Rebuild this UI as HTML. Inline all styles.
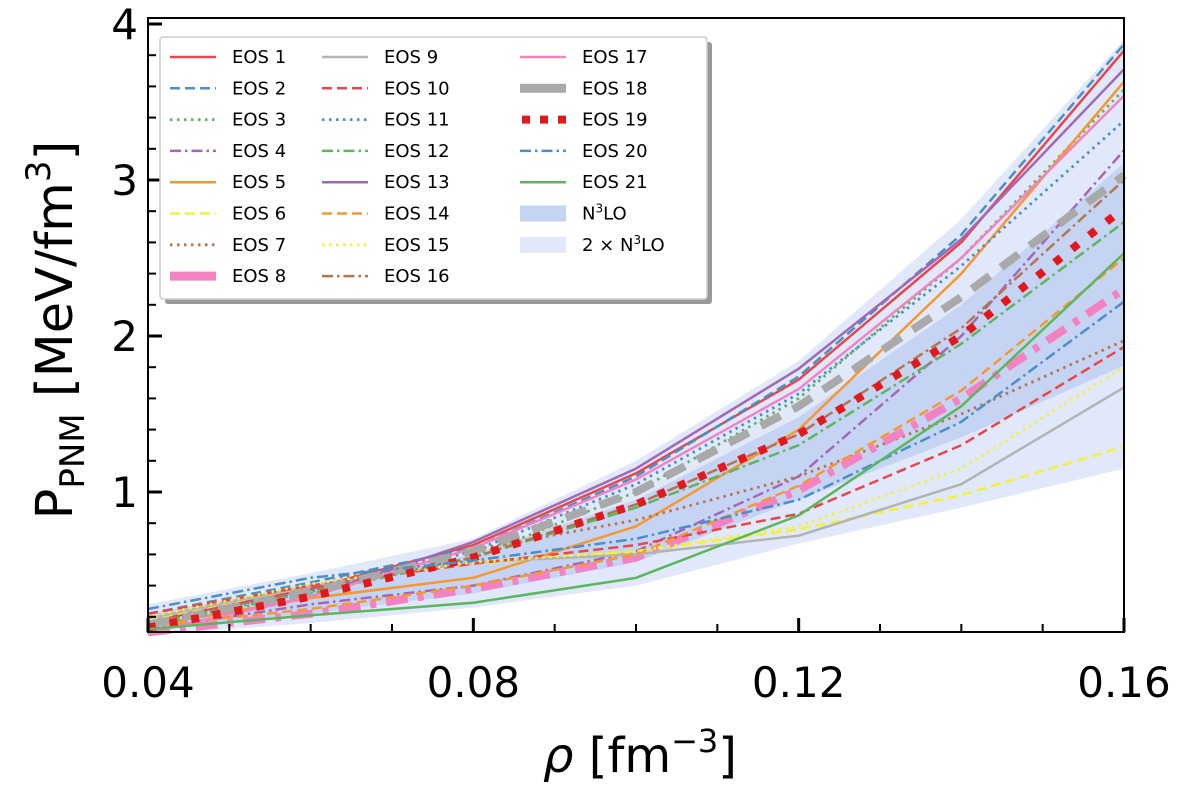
<!DOCTYPE html>
<html><head><meta charset="utf-8"><style>
body{margin:0;background:#fff;}
svg{display:block;font-family:"DejaVu Sans","Liberation Sans",sans-serif;}
</style></head><body>
<svg id="chart" width="1200" height="793" viewBox="0 0 1200 793"></svg>
<script>
const xs=[0.04,0.06,0.08,0.10,0.12,0.14,0.16];
const outerTop=[0.28,0.48,0.70,1.20,1.84,2.75,3.90];
const outerBot=[0.08,0.16,0.26,0.40,0.67,0.90,1.15];
const innerTop=[0.22,0.40,0.60,0.95,1.48,2.20,3.11];
const innerBot=[0.12,0.22,0.35,0.55,0.95,1.35,1.81];
const eos1=[0.17,0.38,0.66,1.12,1.72,2.60,3.83];
const eos2=[0.22,0.42,0.64,1.10,1.74,2.65,3.87];
const eos3=[0.15,0.36,0.58,1.00,1.60,2.50,3.58];
const eos4=[0.12,0.28,0.40,0.62,1.10,2.00,3.19];
const eos5=[0.14,0.32,0.45,0.78,1.40,2.40,3.63];
const eos6=[0.18,0.40,0.54,0.62,0.76,0.98,1.29];
const eos7=[0.20,0.40,0.63,0.82,1.10,1.50,1.97];
const eos8=[0.10,0.22,0.38,0.58,1.01,1.60,2.30];
const eos9=[0.19,0.40,0.55,0.60,0.72,1.05,1.67];
const eos10=[0.22,0.40,0.54,0.66,0.86,1.30,1.93];
const eos11=[0.16,0.37,0.62,1.05,1.63,2.45,3.38];
const eos12=[0.14,0.35,0.58,0.90,1.30,1.95,2.73];
const eos13=[0.10,0.33,0.68,1.15,1.79,2.62,3.71];
const eos14=[0.14,0.25,0.40,0.60,1.04,1.65,2.50];
const eos15=[0.20,0.41,0.55,0.62,0.78,1.15,1.80];
const eos16=[0.16,0.37,0.58,0.92,1.37,2.05,3.00];
const eos17=[0.10,0.33,0.64,1.08,1.66,2.50,3.54];
const eos18=[0.15,0.36,0.62,1.00,1.55,2.25,3.03];
const eos19=[0.13,0.33,0.58,0.92,1.37,2.00,2.82];
const eos20=[0.25,0.45,0.56,0.70,0.95,1.45,2.22];
const eos21=[0.12,0.21,0.29,0.45,0.85,1.55,2.53];
const xTickLabels=["0.04","0.08","0.12","0.16"];
const yTickLabels=["1","2","3","4"];

const NS="http://www.w3.org/2000/svg";
const svg=document.getElementById('chart');
const X0=148,X1=1124,Y0=632,Y1=18;
const xScale=v=>X0+(v-0.04)/0.12*(X1-X0);
const yScale=v=>648-156*v;
function mk(tag,attrs,parent){const e=document.createElementNS(NS,tag);for(const k in attrs)e.setAttribute(k,attrs[k]);(parent||svg).appendChild(e);return e;}

const C={red:"#e8474a",blue:"#4a8fc7",green:"#5cb65c",purple:"#a368b5",orange:"#f7972f",yellow:"#f2f23a",brown:"#b57450",pink:"#f282c2",gray:"#b3b3b3"};
const D={solid:"",dash:"10,5",dot:"2.5,4.5",dashdot:"11,4,2.5,4"};
const series=[
["EOS 1",eos1,C.red,D.solid,2.5],["EOS 2",eos2,C.blue,D.dash,2.5],["EOS 3",eos3,C.green,D.dot,2.8],
["EOS 4",eos4,C.purple,D.dashdot,2.5],["EOS 5",eos5,C.orange,D.solid,2.5],["EOS 6",eos6,C.yellow,D.dash,2.5],
["EOS 7",eos7,C.brown,D.dot,2.8],["EOS 8",eos8,C.pink,"22,10,6,10",8],["EOS 9",eos9,C.gray,D.solid,2.5],
["EOS 10",eos10,C.red,D.dash,2.5],["EOS 11",eos11,C.blue,D.dot,2.8],["EOS 12",eos12,C.green,D.dashdot,2.5],
["EOS 13",eos13,C.purple,D.solid,2.5],["EOS 14",eos14,C.orange,D.dash,2.5],["EOS 15",eos15,C.yellow,D.dot,2.8],
["EOS 16",eos16,C.brown,D.dashdot,2.5],["EOS 17",eos17,C.pink,D.solid,2.5],["EOS 18",eos18,"#a9a9a9","22,14",8],
["EOS 19",eos19,"#e0191c","8,14",8],["EOS 20",eos20,C.blue,D.dashdot,2.5],["EOS 21",eos21,C.green,D.solid,2.5]];

const plot=mk('g',{});


function band(top,bot,fill,name){
  let d='';xs.forEach((x,i)=>d+=(i?'L':'M')+xScale(x)+','+yScale(top[i]));
  for(let i=xs.length-1;i>=0;i--)d+='L'+xScale(xs[i])+','+yScale(bot[i]);
  const p=mk('path',{d:d+'Z',fill:fill},plot);
  
  
}
band(outerTop,outerBot,"#e1e8f9","band-2x-n3lo");
band(innerTop,innerBot,"#c6d4f4","band-n3lo");
series.forEach(s=>{
  const pts=xs.map((x,i)=>xScale(x)+','+yScale(s[1][i])).join(' ');
  const l=mk('polyline',{points:pts,fill:'none',stroke:s[2],'stroke-width':s[4],'stroke-dasharray':s[3],'stroke-linejoin':'round'},plot);
  
  
});
const fr=mk('rect',{x:X0,y:Y1,width:X1-X0,height:Y0-Y1,fill:'none',stroke:'#000','stroke-width':2});


for(let i=0;i<=12;i++){const v=0.04+i*0.01;const x=xScale(v);const maj=i%4===0;
  mk('line',{x1:x,x2:x,y1:Y0,y2:Y0-(maj?14:8),stroke:'#000','stroke-width':maj?3:2});}
xTickLabels.forEach(t=>{const e=mk('text',{x:xScale(parseFloat(t)),y:697,'font-size':42,'text-anchor':'middle',fill:'#000'});e.textContent=t;
  
  });
for(let k=1;k<=20;k++){const v=k*0.2;const y=yScale(v);if(y<Y1-1)break;const maj=k%5===0;
  mk('line',{x1:X0,x2:X0+(maj?14:8),y1:y,y2:y,stroke:'#000','stroke-width':maj?3:2});}
yTickLabels.forEach(t=>{const e=mk('text',{x:138,y:yScale(parseFloat(t))+15,'font-size':42,'text-anchor':'end',fill:'#000'});e.textContent=t;
  
  });
const xt=mk('text',{x:640,y:772,'font-size':48,'text-anchor':'middle',fill:'#000'});
xt.innerHTML='<tspan font-style="italic">ρ</tspan> [fm<tspan dy="-20" font-size="32">−3</tspan><tspan dy="20">]</tspan>';


const yt=mk('text',{transform:'translate(72,330) rotate(-90)','font-size':51,'text-anchor':'middle',fill:'#000'});
yt.innerHTML='P<tspan dy="12" font-size="34">PNM</tspan><tspan dy="-12"> [MeV/fm</tspan><tspan dy="-22" font-size="34">3</tspan><tspan dy="22">]</tspan>';


const lg=mk('g',{});


mk('rect',{x:165,y:42,width:547,height:262,fill:'#999',rx:3},lg);
mk('rect',{x:160,y:37,width:547,height:262,fill:'#fff',stroke:'#ccc','stroke-width':1.5,rx:3},lg);
const entries=series.map(s=>({name:s[0],c:s[2],d:s[3],w:s[4]===8?(s[0]==="EOS 19"?7:9):s[4]}));
entries[7].d="";
entries[17].d="";
entries.push({name:"N3LO",band:"#c6d4f4"},{name:"2 × N3LO",band:"#e1e8f9"});
const colX=[170,322,520];
entries.forEach((e,i)=>{const col=Math.floor(i/8),row=i%8;const x=colX[col],y=57+row*31.3;
  const g=mk('g',{},lg);
  
  
  if(e.band){mk('rect',{x:x,y:y-8,width:46,height:16,fill:e.band},g);}
  else if(e.name==="EOS 19"){mk('line',{x1:x+2,x2:x+46,y1:y,y2:y,stroke:e.c,'stroke-width':8,'stroke-dasharray':'8,10'},g);}
  else mk('line',{x1:x,x2:x+46,y1:y,y2:y,stroke:e.c,'stroke-width':e.w,'stroke-dasharray':e.d},g);
  const t=mk('text',{x:x+62,y:y+6,'font-size':18,fill:'#000'},g);
  if(e.name.indexOf("N3LO")>=0){t.innerHTML=e.name.replace("N3LO",'N<tspan dy="-7" font-size="12">3</tspan><tspan dy="7">LO</tspan>');}
  else t.textContent=e.name;
});
</script>
</body></html>
